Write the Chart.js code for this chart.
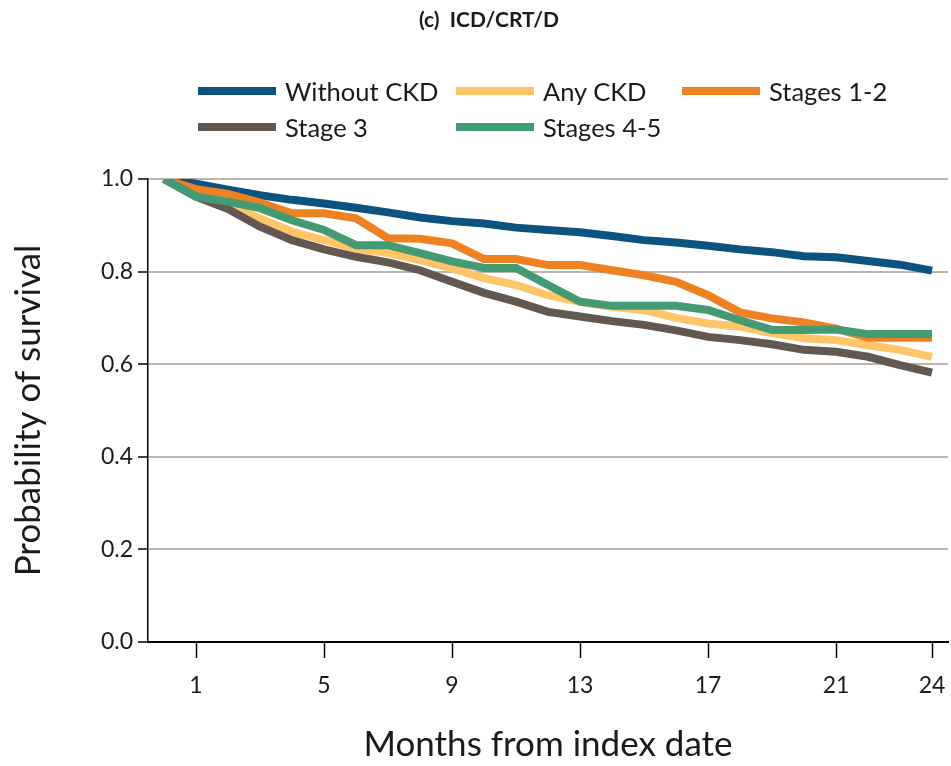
<!DOCTYPE html>
<html>
<head>
<meta charset="utf-8">
<script src="https://cdn.jsdelivr.net/npm/chart.js@4"></script>
<style>
  html, body { margin: 0; padding: 0; background: #fff; }
  #wrap { position: relative; width: 951px; height: 766px; font-family: Lato, "Noto Sans", sans-serif; color: #1a1a1a; }
  #title { position: absolute; left: 0; width: 978px; top: 6px; text-align: center; font-weight: bold; font-size: 21px; white-space: pre; }
  #legend { position: absolute; left: 198px; top: 76px; }
  .item { position: absolute; display: flex; align-items: center; font-size: 25.5px; white-space: nowrap; }
  .swatch { width: 78px; height: 8px; margin-right: 9px; }
</style>
</head>
<body>
<div id="wrap">
  <div id="title">(c)  ICD/CRT/D</div>
  <div id="legend"></div>
  <canvas id="chart" width="951" height="766"></canvas>
</div>
<script>
// Data
const months = [0, 1, 2, 3, 4, 5, 6, 7, 8, 9, 10, 11, 12, 13, 14, 15, 16, 17, 18, 19, 20, 21, 22, 23, 24];
const xTicks = [1, 5, 9, 13, 17, 21, 24];

const withoutCkd = [1.0, 0.99, 0.977, 0.965, 0.955, 0.947, 0.938, 0.928, 0.917, 0.909, 0.904, 0.895, 0.890, 0.885, 0.877, 0.868, 0.863, 0.856, 0.848, 0.842, 0.833, 0.831, 0.823, 0.815, 0.802];
const anyCkd = [1.0, 0.97, 0.945, 0.915, 0.886, 0.868, 0.850, 0.840, 0.825, 0.807, 0.786, 0.771, 0.749, 0.735, 0.724, 0.717, 0.700, 0.688, 0.681, 0.667, 0.656, 0.652, 0.641, 0.631, 0.616];
const stages12 = [1.0, 0.978, 0.968, 0.949, 0.926, 0.926, 0.915, 0.872, 0.871, 0.861, 0.827, 0.827, 0.814, 0.814, 0.803, 0.792, 0.778, 0.749, 0.712, 0.699, 0.690, 0.677, 0.657, 0.657, 0.657];
const stage3 = [1.0, 0.962, 0.935, 0.897, 0.868, 0.848, 0.832, 0.820, 0.803, 0.778, 0.754, 0.735, 0.713, 0.703, 0.693, 0.685, 0.673, 0.659, 0.652, 0.643, 0.631, 0.627, 0.616, 0.598, 0.582];
const stages45 = [1.0, 0.962, 0.951, 0.937, 0.911, 0.890, 0.857, 0.857, 0.840, 0.822, 0.808, 0.808, 0.771, 0.735, 0.726, 0.726, 0.726, 0.717, 0.695, 0.674, 0.674, 0.675, 0.665, 0.665, 0.665];

const series = [
  { label: 'Without CKD', data: withoutCkd, color: '#0d5380' },
  { label: 'Any CKD', data: anyCkd, color: '#ffc566' },
  { label: 'Stages 1-2', data: stages12, color: '#ee8222' },
  { label: 'Stage 3', data: stage3, color: '#625850' },
  { label: 'Stages 4-5', data: stages45, color: '#449a72' }
];

// legend laid out in a grid like the original
const legendPos = [[0, 0], [258, 0], [484, 0], [0, 36], [258, 36]];
const legendEl = document.getElementById('legend');
series.forEach((s, i) => {
  const div = document.createElement('div');
  div.className = 'item';
  div.style.left = legendPos[i][0] + 'px';
  div.style.top = legendPos[i][1] + 'px';
  div.innerHTML = `<span class="swatch" style="background:${s.color}"></span>${s.label}`;
  legendEl.appendChild(div);
});

const ctx = document.getElementById('chart').getContext('2d');
new Chart(ctx, {
  type: 'line',
  data: {
    datasets: series.map((s, i) => ({
      label: s.label,
      data: s.data.map((v, j) => ({ x: months[j], y: v })),
      borderColor: s.color,
      backgroundColor: s.color,
      borderWidth: 8,
      pointRadius: 0,
      tension: 0,
      order: series.length - i
    }))
  },
  options: {
    responsive: false,
    animation: false,
    layout: { padding: { top: 179, right: 3, left: 0, bottom: 0 } },
    plugins: {
      legend: { display: false },
      title: { display: false },
      tooltip: { enabled: false }
    },
    scales: {
      x: {
        type: 'linear',
        min: -0.5,
        max: 24.5,
        afterBuildTicks: scale => { scale.ticks = xTicks.map(v => ({ value: v })); },
        afterFit: scale => { scale.height = 124; scale.paddingLeft = 0; scale.paddingRight = 0; },
        grid: { drawOnChartArea: false, tickLength: 16, tickColor: '#000', tickWidth: 1.5 },
        border: { color: '#000', width: 2 },
        ticks: { color: '#1a1a1a', font: { family: 'Lato', size: 23 }, padding: 14, maxRotation: 0, autoSkip: false },
        title: { display: true, text: 'Months from index date', color: '#1a1a1a', font: { family: 'Lato', size: 35 }, padding: { top: 10, bottom: 0 } }
      },
      y: {
        min: 0,
        max: 1,
        ticks: { stepSize: 0.2, color: '#1a1a1a', font: { family: 'Lato', size: 23 }, padding: 5, callback: v => v.toFixed(1) },
        afterFit: scale => { scale.width = 148; },
        grid: { color: '#bdb5ad', lineWidth: 2, tickLength: 10, tickColor: '#000', tickWidth: 1.5 },
        border: { color: '#000', width: 1.5 },
        title: { display: true, text: 'Probability of survival', color: '#1a1a1a', font: { family: 'Lato', size: 35 }, padding: { top: 8, bottom: 10 } }
      }
    }
  }
});
</script>
</body>
</html>
